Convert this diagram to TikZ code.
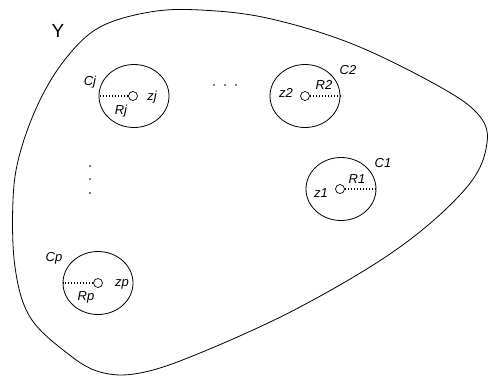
\documentclass[tikz,border=0pt]{standalone}
\usepackage{fontspec}
\setmainfont{Liberation Sans}
\usetikzlibrary{positioning,shapes.geometric}

\begin{document}
\begin{tikzpicture}[x=1pt,y=-1pt,
  disc/.style={ellipse, draw, line width=0.8pt, minimum width=70pt, minimum height=63pt, inner sep=0pt},
  hub/.style={circle, draw, line width=0.7pt, minimum size=9pt, inner sep=0pt},
  lbl/.style={font=\fontsize{13}{15}\selectfont\itshape, inner sep=0pt},
  radius line/.style={line width=1.5pt, dash pattern=on 1.5pt off 1.5pt}]
\useasboundingbox (0,0) rectangle (490,376);
% the set Y
\draw[line width=0.8pt] plot[smooth cycle, tension=0.6] coordinates {
  (200,10) (267,18) (350,43) (433,83) (477,113) (487,143) (467,187)
  (400,247) (300,307) (200,353) (140,373) (100,372) (67,353) (30,317)
  (15,267) (13,200) (20,153) (40,100) (67,57) (100,27) (150,12)};
\node[font=\fontsize{19}{21}\selectfont, inner sep=0pt] (y) at (58,31) {Y};
% circles C
\node[disc] (cj) at (134,96) {};
\node[hub] (hj) at (133,96) {};
\node[disc] (c2) at (305,96) {};
\node[hub] (h2) at (305,96) {};
\node[disc] (c1) at (341,189) {};
\node[hub] (h1) at (340,189) {};
\node[disc] (cp) at (98,283) {};
\node[hub] (hp) at (98,283) {};
% radii
\draw[radius line] (hj.west) -- (cj.west);
\draw[radius line] (h2.east) -- (c2.east);
\draw[radius line] (h1.east) -- (c1.east);
\draw[radius line] (hp.west) -- (cp.west);
% labels
\node[lbl] (lcj) at (90,82) {Cj};
\node[lbl] (lzj) at (152,97) {zj};
\node[lbl] (lrj) at (121,111) {Rj};
\node[lbl] (lc2) at (348,70) {C2};
\node[lbl] (lz2) at (286,93) {z2};
\node[lbl] (lr2) at (324,85) {R2};
\node[lbl] (lc1) at (383,163) {C1};
\node[lbl] (lr1) at (357,179) {R1};
\node[lbl] (lz1) at (321,193) {z1};
\node[lbl] (lcp) at (54,258) {Cp};
\node[lbl] (lzp) at (122,284) {zp};
\node[lbl] (lrp) at (86,297) {Rp};
% dots
\foreach \x in {214,225,236} \fill (\x,85) circle (0.9);
\foreach \y in {166,179,193} \fill (90,\y) circle (0.9);
\end{tikzpicture}
\end{document}
